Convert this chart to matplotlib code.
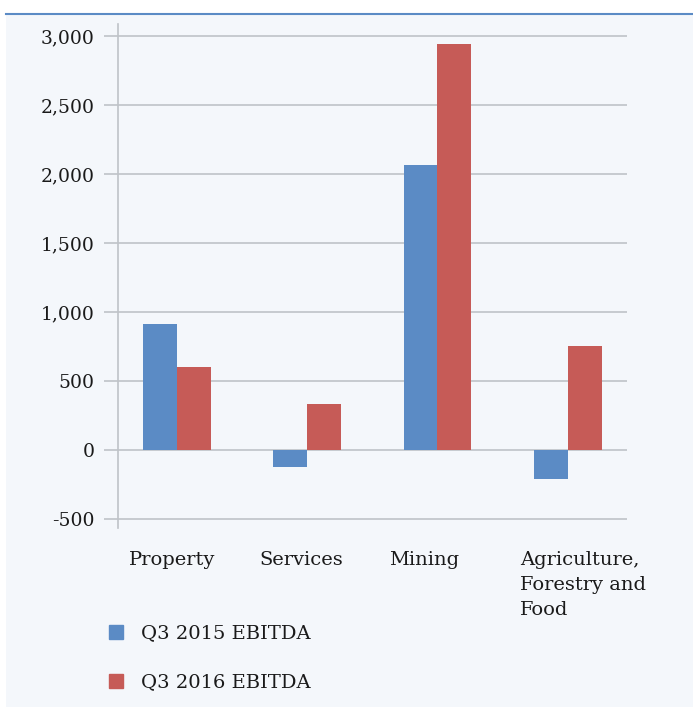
import matplotlib.pyplot as plt
import numpy as np
from matplotlib.patches import Patch
from matplotlib.lines import Line2D
from matplotlib.transforms import blended_transform_factory, offset_copy

categories = ['Property', 'Services', 'Mining', 'Agriculture,\nForestry and\nFood']
ebitda_2015 = [915, -120, 2065, -210]
ebitda_2016 = [600, 335, 2940, 755]
yticks = [-500, 0, 500, 1000, 1500, 2000, 2500, 3000]

BLUE = '#5B8BC5'
RED = '#C65B57'
GRID = '#BFC3C8'
BG = '#F4F7FB'
TXT = '#1A1A1A'

plt.rcParams['font.family'] = ['DejaVu Serif']

fig = plt.figure(figsize=(6.93, 7.07), dpi=100, facecolor='white')
# light panel with a blue rule on top
fig.patches.append(plt.Rectangle((6 / 693, 0), 1, 1 - 14 / 707, transform=fig.transFigure,
                                 facecolor=BG, edgecolor='none', zorder=-10))
fig.lines.append(Line2D([6 / 693, 1], [1 - 14 / 707, 1 - 14 / 707], transform=fig.transFigure,
                        color='#5B8BC5', lw=1.5))

ax = fig.add_axes([118 / 693, 1 - 528 / 707, (627 - 118) / 693, (528 - 24) / 707])
ax.set_facecolor('none')

x = np.arange(len(categories))
w = 0.26
ax.bar(x - w / 2, ebitda_2015, w, color=BLUE, zorder=3)
ax.bar(x + w / 2, ebitda_2016, w, color=RED, zorder=3)

ax.set_xlim(-0.451, 3.455)
ax.set_ylim(-565, 3087)
ax.set_yticks(yticks)
ax.set_yticklabels([f'{v:,}' for v in yticks], fontsize=13.5, color=TXT)
ax.yaxis.grid(True, color=GRID, lw=1.2, zorder=0)
ax.tick_params(axis='y', length=10, color=GRID, width=1.2, pad=7)

# category labels, left aligned a little left of each group centre
ax.set_xticks([])
trans = blended_transform_factory(ax.transData, fig.transFigure)
for i, lab in enumerate(categories):
    t = offset_copy(trans, fig=fig, x=-48, y=0, units='dots')
    ax.text(i, 1 - 551 / 707, lab, transform=t, ha='left', va='top', fontsize=14,
            color=TXT, linespacing=1.5)

for s in ['top', 'right', 'bottom']:
    ax.spines[s].set_visible(False)
ax.spines['left'].set_color(GRID)
ax.spines['left'].set_linewidth(1.2)

handles = [Patch(color=BLUE, label='Q3 2015 EBITDA'), Patch(color=RED, label='Q3 2016 EBITDA')]
fig.legend(handles=handles, loc='upper left', bbox_to_anchor=(91 / 693, 1 - 607 / 707),
           frameon=False, fontsize=14, handlelength=0.72, handleheight=0.72,
           handletextpad=0.95, labelspacing=1.6, labelcolor=TXT)

fig.savefig('out.png', dpi=100, facecolor='white')
